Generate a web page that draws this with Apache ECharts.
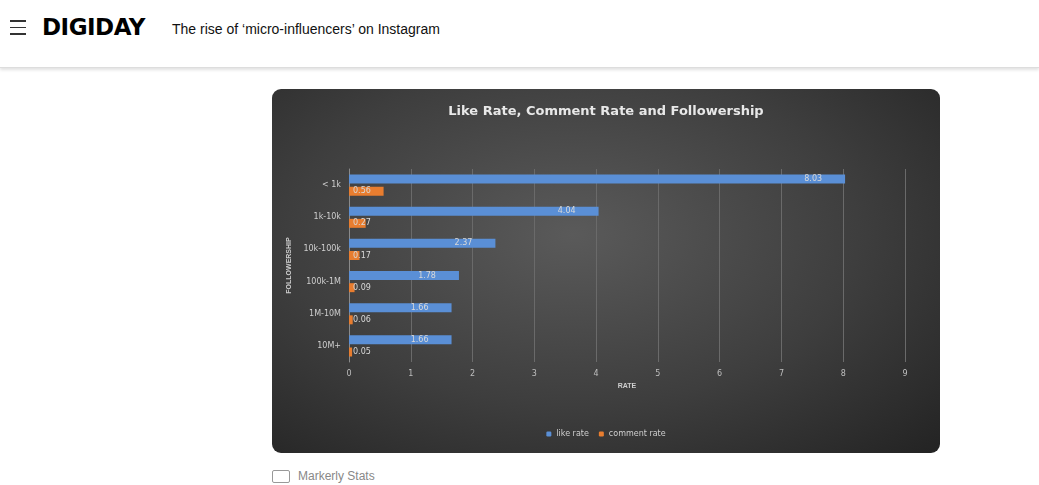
<!DOCTYPE html>
<html><head><meta charset="utf-8">
<script src="https://cdn.jsdelivr.net/npm/echarts@6/dist/echarts.min.js"></script>
<style>
body{margin:0;background:#fff;font-family:"Liberation Sans",Arial,sans-serif;width:1039px;height:485px;overflow:hidden;position:relative}
#hdr{position:absolute;left:0;top:0;width:1039px;height:67px;border-bottom:1px solid #ddd;box-shadow:0 2px 3px rgba(0,0,0,0.12)}
#burger{position:absolute;left:10px;top:20px;width:16px}
#burger div{height:1.5px;background:#333;margin-bottom:5px}
#logo{position:absolute;left:42px;top:14px;font-family:"DejaVu Sans";font-weight:900;font-size:23px;letter-spacing:-0.5px;color:#000}
#ttl{position:absolute;left:172px;top:21px;font-size:14px;color:#111}
#main{position:absolute;left:272px;top:89px;width:668px;height:364px;border-radius:9px;overflow:hidden;
background:radial-gradient(ellipse at 45% 40%,#5a5a5a 0%,#3e3e3e 55%,#232323 100%)}
#cap{position:absolute;left:272px;top:469px;font-size:12px;color:#888}
#cap span{display:inline-block;width:16px;height:11px;border:1.5px solid #999;border-radius:2px;vertical-align:middle;margin-right:8px}
</style></head><body>
<div id="hdr"><div id="burger"><div></div><div></div><div></div></div><div id="logo">DIGIDAY</div><div id="ttl">The rise of ‘micro-influencers’ on Instagram</div></div>
<div id="main"></div>
<div id="cap"><span></span>Markerly Stats</div>
<script>
const categories = ['< 1k', '1k-10k', '10k-100k', '100k-1M', '1M-10M', '10M+'];
const likeRate = [8.03, 4.04, 2.37, 1.78, 1.66, 1.66];
const commentRate = [0.56, 0.27, 0.17, 0.09, 0.06, 0.05];

let chart = echarts.init(document.getElementById('main'));
const lbl = {color: '#d9d9d9', fontSize: 8, fontFamily: 'DejaVu Sans'};
chart.setOption({
    backgroundColor: 'transparent',
    title: {text: 'Like Rate, Comment Rate and Followership', left: 'center', top: 11,
        textStyle: {color: '#e8e8e8', fontSize: 13, fontWeight: 'bold', fontFamily: 'DejaVu Sans', letterSpacing: 1}},
    legend: {bottom: 10, itemWidth: 5, itemHeight: 5, itemGap: 10,
        textStyle: {color: '#cfcfcf', fontSize: 8, fontFamily: 'DejaVu Sans'},
        data: ['like rate', 'comment rate']},
    grid: {left: 77, right: 35, top: 80, bottom: 91},
    xAxis: {type: 'value', min: 0, max: 9, interval: 1, name: 'RATE', nameLocation: 'middle', nameGap: 20,
        nameTextStyle: {color: '#cfcfcf', fontSize: 7, fontWeight: 'bold'},
        axisLabel: {color: '#bfbfbf', fontSize: 8, fontFamily: 'DejaVu Sans'},
        axisLine: {show: false}, axisTick: {show: false},
        splitLine: {lineStyle: {color: '#6a6a6a', width: 1}}},
    yAxis: {type: 'category', data: categories, inverse: true, name: 'FOLLOWERSHIP', nameLocation: 'middle', nameGap: 42,
        nameTextStyle: {color: '#cfcfcf', fontSize: 7, fontWeight: 'bold'},
        axisLabel: {color: '#cfcfcf', fontSize: 8, fontFamily: 'DejaVu Sans'},
        axisLine: {lineStyle: {color: '#8a8a8a'}}, axisTick: {show: false}},
    series: [
        {name: 'like rate', type: 'bar', data: likeRate, barWidth: 9, barGap: '35%',
            itemStyle: {color: '#5a8fd6'}, label: Object.assign({show: true, position: 'insideRight', offset: [-18, 0]}, lbl)},
        {name: 'comment rate', type: 'bar', data: commentRate, barWidth: 9,
            itemStyle: {color: '#e87d2f'}, label: Object.assign({show: true, position: 'insideLeft', offset: [-1, 0]}, lbl)}
    ]
});
window.onresize = () => chart.resize();
</script>
</body></html>
